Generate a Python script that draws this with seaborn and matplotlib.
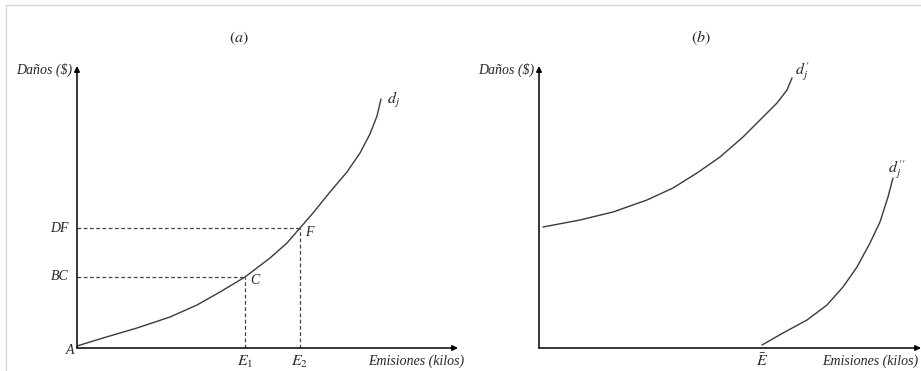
import matplotlib
matplotlib.use("Agg")
import matplotlib.pyplot as plt
import seaborn as sns
import pandas as pd
from matplotlib.lines import Line2D

# Curve points (emissions, damage)
dj_emis = [0, 26, 60, 93, 120, 143, 168, 193, 210, 223, 236, 253, 270, 283, 293, 300, 304]
dj_dano = [2, 10, 20, 31, 43, 56, 71, 90, 105, 120, 135, 156, 176, 195, 214, 232, 249]

dj1_emis = [4, 41, 74, 108, 134, 158, 181, 204, 224, 238, 248, 253]
dj1_dano = [121, 128, 136, 148, 160, 175, 191, 211, 231, 245, 258, 270]

dj2_emis = [223, 244, 268, 288, 304, 318, 331, 341, 349, 354]
dj2_dano = [3, 15, 28, 43, 61, 81, 105, 126, 151, 170]

# Reference points C and F on d_j, and E-bar on the right panel
pts_name = ["C", "F"]
pts_emis = [168, 223]
pts_dano = [71, 120]
ebar = 223

sns.set_theme(style="white")
plt.rcParams["font.family"] = ["Liberation Serif", "DejaVu Serif"]
plt.rcParams["mathtext.fontset"] = "stix"

fig = plt.figure(figsize=(9.21, 3.71), dpi=100)
W, H = 921, 371
ax1 = fig.add_axes([77 / W, 23 / H, 381 / W, 282 / H])
ax2 = fig.add_axes([539 / W, 23 / H, 382 / W, 282 / H])

# light frame at top and left
fig.add_artist(Line2D([6 / W, 1], [1 - 5 / H, 1 - 5 / H], color="#d8d8d8", lw=1))
fig.add_artist(Line2D([6 / W, 6 / W], [0, 1 - 5 / H], color="#d8d8d8", lw=1))

curve_col = "#3a3a3a"
fs = 10
fm = 11.5

for ax, xmax in [(ax1, 381), (ax2, 382)]:
    ax.set_xlim(0, xmax)
    ax.set_ylim(0, 282)
    ax.axis("off")
    ax.annotate("", xy=(xmax, 0), xytext=(0, 0), annotation_clip=False,
                arrowprops=dict(arrowstyle="-|>", color="black", lw=1.1,
                                mutation_scale=8, shrinkA=0, shrinkB=0))
    ax.annotate("", xy=(0, 282), xytext=(0, 0), annotation_clip=False,
                arrowprops=dict(arrowstyle="-|>", color="black", lw=1.1,
                                mutation_scale=8, shrinkA=0, shrinkB=0))
    ax.text(-5, 278, "Daños ($)", ha="right", va="center", style="italic", fontsize=fs)

# ---- panel (a)
df_a = pd.DataFrame({"emis": dj_emis, "dano": dj_dano})
sns.lineplot(data=df_a, x="emis", y="dano", ax=ax1, color=curve_col, lw=1.0,
             sort=False, estimator=None)
for name, ex, dy in zip(pts_name, pts_emis, pts_dano):
    ax1.plot([0, ex], [dy, dy], color="#444444", lw=0.9, ls=(0, (3, 2)))
    ax1.plot([ex, ex], [0, dy], color="#444444", lw=0.9, ls=(0, (3, 2)))
    ax1.text(ex + 5, dy - 4, name, ha="left", va="center", style="italic", fontsize=fs)

ax1.text(-8, pts_dano[1], "DF", ha="right", va="center", style="italic", fontsize=fs)
ax1.text(-8, pts_dano[0], "BC", ha="right", va="center", style="italic", fontsize=fs)
ax1.text(-7, -3, "A", ha="center", va="center", style="italic", fontsize=fs)
ax1.text(pts_emis[0], -14, "$E_1$", ha="center", va="center", fontsize=fm)
ax1.text(pts_emis[1], -14, "$E_2$", ha="center", va="center", fontsize=fm)
ax1.text(310, 248, "$d_j$", ha="left", va="center", fontsize=fm)
ax1.text(387, -13, "Emisiones (kilos)", ha="right", va="center", style="italic", fontsize=fs)
ax1.text(162, 310, "$(a)$", ha="center", va="center", fontsize=fm)

# ---- panel (b)
df_b1 = pd.DataFrame({"emis": dj1_emis, "dano": dj1_dano})
df_b2 = pd.DataFrame({"emis": dj2_emis, "dano": dj2_dano})
sns.lineplot(data=df_b1, x="emis", y="dano", ax=ax2, color=curve_col, lw=1.0,
             sort=False, estimator=None)
sns.lineplot(data=df_b2, x="emis", y="dano", ax=ax2, color=curve_col, lw=1.0,
             sort=False, estimator=None)
ax2.text(256, 276, "$d_j'$", ha="left", va="center", fontsize=fm)
ax2.text(349, 178, "$d_j''$", ha="left", va="center", fontsize=fm)
ax2.text(ebar, -14, r"$\bar{E}$", ha="center", va="center", fontsize=fm)
ax2.text(379, -13, "Emisiones (kilos)", ha="right", va="center", style="italic", fontsize=fs)
ax2.text(162, 310, "$(b)$", ha="center", va="center", fontsize=fm)

fig.savefig("out.png", dpi=100)
